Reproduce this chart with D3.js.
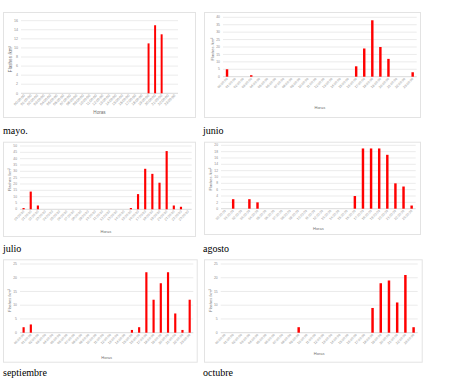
<!DOCTYPE html>
<html>
<head>
<meta charset="utf-8">
<script src="https://cdn.jsdelivr.net/npm/d3@7/dist/d3.min.js"></script>
<style>
  body { margin: 0; background: #fff; }
  svg { display: block; }
  .caption { font-family: 'Liberation Serif', 'DejaVu Serif', serif; font-size: 10px; fill: #000; }
  .tick-label { font-family: 'Liberation Sans', Arial, sans-serif; fill: #8a8a8a; }
  .axis-title { font-family: 'Liberation Sans', Arial, sans-serif; fill: #6f6f6f; }
</style>
</head>
<body>
<svg id="chart" width="450" height="383"></svg>
<script>
const HOURS = ['00:00:00', '01:00:00', '02:00:00', '03:00:00', '04:00:00', '05:00:00',
  '06:00:00', '07:00:00', '08:00:00', '09:00:00', '10:00:00', '11:00:00',
  '12:00:00', '13:00:00', '14:00:00', '15:00:00', '16:00:00', '17:00:00',
  '18:00:00', '19:00:00', '20:00:00', '21:00:00', '22:00:00', '23:00:00']

const MONTHS = ['mayo.', 'junio', 'julio', 'agosto', 'septiembre', 'octubre']

// flashes /km2 per hour
const MAYO       = [0, 0, 0, 0, 0, 0, 0, 0, 0, 0, 0, 0, 0, 0, 0, 0, 0, 0, 0, 11, 15, 13, 0, 0]
const JUNIO      = [5, 0, 0, 1, 0, 0, 0, 0, 0, 0, 0, 0, 0, 0, 0, 0, 7, 19, 38, 20, 12, 0, 0, 3]
const JULIO      = [1, 14, 3, 0, 0, 0, 0, 0, 0, 0, 0, 0, 0, 0, 0, 1, 12, 32, 28, 21, 46, 3, 2, 0]
const AGOSTO     = [0, 3, 0, 3, 2, 0, 0, 0, 0, 0, 0, 0, 0, 0, 0, 0, 4, 19, 19, 19, 17, 8, 7, 1]
const SEPTIEMBRE = [2, 3, 0, 0, 0, 0, 0, 0, 0, 0, 0, 0, 0, 0, 0, 1, 2, 22, 12, 18, 22, 7, 1, 12]
const OCTUBRE    = [0, 0, 0, 0, 0, 0, 0, 0, 0, 2, 0, 0, 0, 0, 0, 0, 0, 0, 9, 18, 19, 11, 21, 2]

const SERIES = [MAYO, JUNIO, JULIO, AGOSTO, SEPTIEMBRE, OCTUBRE]
const Y_MAX  = [16, 40, 50, 20, 25, 25]
const Y_STEP = [2, 5, 5, 2, 5, 5]

// frame [x0,y0,x1,y1], plot [x0,y0,x1,y1], horas title y, caption baseline, font sizes
const layout = [
  {frame: [3, 12, 195, 117],     plot: [21, 20.7, 178, 93.3],     horasY: 114,   cap: [3, 134],   fs: 3.6, ts: 4.6},
  {frame: [204, 12, 420, 117],   plot: [223, 17.3, 416.7, 76.7],  horasY: 109,   cap: [203, 134], fs: 3.4, ts: 4},
  {frame: [3, 141.7, 195, 236],  plot: [20, 146, 191.7, 209.3],   horasY: 232.5, cap: [3, 251.5], fs: 3.3, ts: 4},
  {frame: [204, 141.7, 420, 234], plot: [221, 145.3, 415.7, 208.7], horasY: 230, cap: [203, 251.5], fs: 3.3, ts: 4},
  {frame: [3, 259.3, 196.7, 361.7], plot: [20, 264, 193.3, 332.7], horasY: 359,  cap: [3, 376],   fs: 3.4, ts: 4},
  {frame: [204, 259.3, 421.7, 361.7], plot: [220.7, 264, 417.7, 332.7], horasY: 354.5, cap: [203, 376], fs: 3.4, ts: 4},
]

const svg = d3.select('#chart')

layout.forEach((L, k) => {
  const values = SERIES[k]
  const [fx0, fy0, fx1, fy1] = L.frame
  const [px0, py0, px1, py1] = L.plot

  svg.append('rect')
    .attr('x', fx0 + 0.5).attr('y', fy0 + 0.5)
    .attr('width', fx1 - fx0).attr('height', fy1 - fy0)
    .attr('fill', '#fff')
    .attr('stroke', '#e3e3e3')
    .attr('stroke-width', 1)

  const x = d3.scaleBand().domain(HOURS).range([px0, px1]).paddingInner(0.7).paddingOuter(0.35)
  const y = d3.scaleLinear().domain([0, Y_MAX[k]]).range([py1, py0])
  const ticks = d3.range(0, Y_MAX[k] + 0.001, Y_STEP[k])

  const g = svg.append('g')

  // gridlines
  g.selectAll('.grid')
    .data(ticks)
    .join('line')
    .attr('x1', px0).attr('x2', px1)
    .attr('y1', (d) => y(d)).attr('y2', (d) => y(d))
    .attr('stroke', (d) => d === 0 ? '#d0d0d0' : '#e6e6e6')
    .attr('stroke-width', 0.8)

  // y tick labels
  g.selectAll('.ylab')
    .data(ticks)
    .join('text')
    .attr('class', 'tick-label')
    .attr('x', px0 - 3)
    .attr('y', (d) => y(d))
    .attr('dy', '0.35em')
    .attr('text-anchor', 'end')
    .attr('font-size', L.fs)
    .text((d) => d)

  // x tick labels
  g.selectAll('.xlab')
    .data(HOURS)
    .join('text')
    .attr('class', 'tick-label')
    .attr('font-size', L.fs)
    .attr('text-anchor', 'end')
    .attr('transform', (d) => `translate(${x(d) + x.bandwidth() / 2 + 1}, ${py1 + 2.5}) rotate(-45)`)
    .text((d) => d)

  // bars
  g.selectAll('.bar')
    .data(values.map((v, i) => ({hour: HOURS[i], v})).filter((d) => d.v > 0))
    .join('rect')
    .attr('x', (d) => x(d.hour))
    .attr('y', (d) => y(d.v))
    .attr('width', x.bandwidth())
    .attr('height', (d) => y(0) - y(d.v))
    .attr('fill', '#ff0000')

  // axis titles
  g.append('text')
    .attr('class', 'axis-title')
    .attr('font-size', L.ts)
    .attr('text-anchor', 'middle')
    .attr('transform', `translate(${px0 - 9}, ${(py0 + py1) / 2 + 2}) rotate(-90)`)
    .text('Flashes /km²')

  g.append('text')
    .attr('class', 'axis-title')
    .attr('font-size', L.ts)
    .attr('text-anchor', 'middle')
    .attr('x', (px0 + px1) / 2)
    .attr('y', L.horasY)
    .text('Horas')

  svg.append('text')
    .attr('class', 'caption')
    .attr('x', L.cap[0])
    .attr('y', L.cap[1])
    .text(MONTHS[k])
})
</script>
</body>
</html>
